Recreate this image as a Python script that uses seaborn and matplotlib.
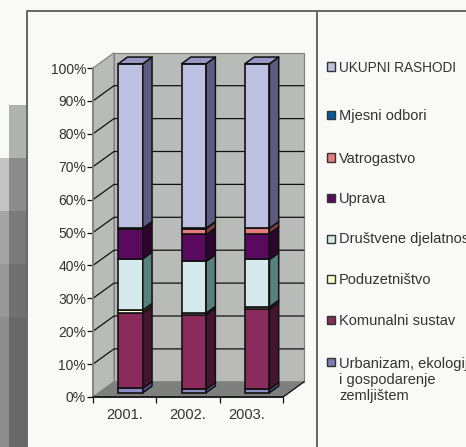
"""Stacked 100% bar chart with a drawn 3D box look, spending shares per year."""
import matplotlib
matplotlib.use("Agg")
import matplotlib.pyplot as plt
from matplotlib.patches import Polygon, Rectangle
from matplotlib.transforms import Affine2D, ScaledTranslation
import numpy as np
import seaborn as sns

# --- Data ---
YEARS = ["2001.", "2002.", "2003."]
URBANIZAM = [1.4, 1.1, 1.1]
KOMUNALNI = [22.9, 22.6, 24.3]
PODUZETNISTVO = [0.8, 0.5, 0.7]
DRUSTVENE = [15.6, 15.7, 14.4]
UPRAVA = [9.2, 8.2, 7.9]
VATROGASTVO = [0.1, 1.8, 1.6]
MJESNI = [0.0, 0.1, 0.0]
UKUPNI = [50.0, 50.0, 50.0]

# name, values, front colour, side colour
SERIES = [
    ("Urbanizam", URBANIZAM, "#8C8CC8", "#50508C"),
    ("Komunalni sustav", KOMUNALNI, "#8A2B5C", "#45152F"),
    ("Poduzetništvo", PODUZETNISTVO, "#FFFFCC", "#55553F"),
    ("Društvene djelatnosti", DRUSTVENE, "#D6EAEE", "#5A7F7F"),
    ("Uprava", UPRAVA, "#5A0A5E", "#2D052F"),
    ("Vatrogastvo", VATROGASTVO, "#E67C7C", "#804040"),
    ("Mjesni odbori", MJESNI, "#005C9E", "#002E50"),
    ("UKUPNI RASHODI", UKUPNI, "#BEC0E2", "#5C5C80"),
]
TOP_COLOR = "#9898C8"

LEGEND_LABELS = [
    "UKUPNI RASHODI", "Mjesni odbori", "Vatrogastvo", "Uprava",
    "Društvene djelatnosti", "Poduzetništvo", "Komunalni sustav",
    "Urbanizam, ekologija\ni gospodarenje\nzemljištem",
]
LEGEND_COLORS = ["#BEC0E2", "#005C9E", "#E67C7C", "#5A0A5E",
                 "#D6EAEE", "#FFFFCC", "#8A2B5C", "#7C7CB4"]
LEGEND_Y = [66.5, 115, 157.5, 198.5, 238.5, 278.5, 320, 362]

Y_TICKS = list(range(0, 101, 10))

# --- Layout in pixels ---
W, H = 466, 447
X0, X1, Y0, Y100 = 93, 283, 397, 68
PX_X = (X1 - X0) / 3
PX_Y = (Y0 - Y100) / 100
DEPTH_X, DEPTH_Y = 21 / PX_X, 15.2 / PX_Y
BAR_W = 0.387
BAR_DEPTH = 0.44
BAR_START = (1 - BAR_DEPTH) / 2
TEXT = "#333333"
WALL = "#B9BBB9"
FLOOR = "#7E807E"
EDGE = "#808080"
BG = "#F9F9F7"
LINE_PX = 16.5

sns.set_theme(style="white", rc={"font.family": ["Liberation Sans"], "text.color": TEXT})

fig = plt.figure(figsize=(W / 100, H / 100), dpi=100, facecolor=BG)

# Grey decorative blocks on the left of the slide
blocks = [
    (9, 105, 17, 53, "#B0B2B0"),
    (0, 158, 9, 53, "#C4C4C4"), (9, 158, 17, 53, "#8C8C8C"),
    (0, 211, 9, 53, "#A4A4A4"), (9, 211, 17, 53, "#7A7A7A"),
    (0, 264, 9, 53, "#989898"), (9, 264, 17, 53, "#707070"),
    (0, 317, 9, 130, "#8E8E8E"), (9, 317, 17, 130, "#686868"),
]
for bx, by, bw, bh, bc in blocks:
    fig.add_artist(Rectangle((bx / W, 1 - (by + bh) / H), bw / W, bh / H,
                             transform=fig.transFigure, color=bc, lw=0))

# Chart frame
fig.add_artist(plt.Line2D([27 / W, 27 / W, 317 / W, 317 / W],
                          [0, 1 - 10.5 / H, 1 - 10.5 / H, 0],
                          transform=fig.transFigure, color="#666666", lw=1.4))
fig.add_artist(plt.Line2D([317 / W, 1], [1 - 10.5 / H, 1 - 10.5 / H],
                          transform=fig.transFigure, color="#666666", lw=1.4))

ax = fig.add_axes([X0 / W, 1 - Y0 / H, (X1 - X0) / W, (Y0 - Y100) / H])
ax.patch.set_alpha(0)


def poly(points, color, edge=EDGE, lw=0.8, z=1, transform=None):
    p = Polygon(points, closed=True, facecolor=color, edgecolor=edge, lw=lw,
                zorder=z, clip_on=False, joinstyle="round")
    ax.add_patch(p)
    if transform is not None:
        p.set_transform(transform)


# Stacked front faces through seaborn
bottom = np.zeros(len(YEARS))
for name, vals, col, side_col in SERIES:
    sns.barplot(x=YEARS, y=vals, bottom=bottom, color=col, saturation=1,
                width=BAR_W, edgecolor="#111111", linewidth=1.2, ax=ax, zorder=5)
    bottom = bottom + np.array(vals)

ax.set_xlim(-0.5, 2.5)
ax.set_ylim(0, 100)

# Bars sit inside the box depth: shift front faces before the box is added
shift = Affine2D().translate(BAR_START * DEPTH_X, BAR_START * DEPTH_Y) + ax.transData
for patch in ax.patches:
    if isinstance(patch, Rectangle):
        patch.set_transform(shift)
        patch.set_clip_on(False)

# Box: walls, floor and grid
xl, xr = -0.5, 2.5
poly([(xl, 0), (xl + DEPTH_X, DEPTH_Y), (xl + DEPTH_X, 100 + DEPTH_Y), (xl, 100)], WALL, z=1)
poly([(xl + DEPTH_X, DEPTH_Y), (xr + DEPTH_X, DEPTH_Y), (xr + DEPTH_X, 100 + DEPTH_Y),
      (xl + DEPTH_X, 100 + DEPTH_Y)], WALL, z=1)
poly([(xl, 0), (xr, 0), (xr + DEPTH_X, DEPTH_Y), (xl + DEPTH_X, DEPTH_Y)], FLOOR, edge=FLOOR, z=1)
for t in Y_TICKS[1:-1]:
    ax.plot([xl, xl + DEPTH_X, xr + DEPTH_X], [t, t + DEPTH_Y, t + DEPTH_Y],
            color="#111111", lw=0.9, zorder=2, clip_on=False)
ax.plot([xr, xr + DEPTH_X], [0, DEPTH_Y], color="#111111", lw=0.9, zorder=2, clip_on=False)

dx, dy = BAR_DEPTH * DEPTH_X, BAR_DEPTH * DEPTH_Y
for i in range(len(YEARS)):
    left = i - BAR_W / 2
    right = i + BAR_W / 2
    base = 0.0
    for name, vals, col, side_col in SERIES:
        top = base + vals[i]
        if vals[i] > 0:
            poly([(right, base), (right + dx, base + dy), (right + dx, top + dy), (right, top)],
                 side_col, edge="#111111", lw=1.1, z=6, transform=shift)
        base = top
    poly([(left, base), (right, base), (right + dx, base + dy), (left + dx, base + dy)],
         TOP_COLOR, edge="#111111", lw=1.1, z=6, transform=shift)

# Axes
ax.set_yticks(Y_TICKS)
ax.set_yticklabels([f"{t}%" for t in Y_TICKS])
ax.set_xticks([-0.5, 0.5, 1.5, 2.5])
ax.set_xticklabels([])
ax.tick_params(axis="y", length=4, width=0.9, color="#111111", pad=1, labelsize=10, labelcolor=TEXT, left=True)
ax.tick_params(axis="x", length=4, width=0.9, color="#111111", bottom=True)
for side in ["top", "right"]:
    ax.spines[side].set_visible(False)
ax.spines["left"].set_color("#808080")
ax.spines["bottom"].set_color("#111111")
ax.spines["bottom"].set_zorder(3)
ax.set_xlabel("")
ax.set_ylabel("")

# Category labels, the last one sits a little left of its slot in the original
nudges = [0, 0, -5]
for i, year in enumerate(YEARS):
    tr = ax.get_xaxis_transform() + ScaledTranslation(nudges[i] / 100, -22 / 100, fig.dpi_scale_trans)
    ax.text(i, 0, year, transform=tr, ha="center", va="baseline", fontsize=10.5, color=TEXT, clip_on=False)

# Legend drawn by hand to keep the uneven row spacing
for label, col, ly in zip(LEGEND_LABELS, LEGEND_COLORS, LEGEND_Y):
    fig.add_artist(Rectangle((326.5 / W, 1 - (ly + 4) / H), 8 / W, 8 / H, transform=fig.transFigure,
                             facecolor=col, edgecolor="#333333", lw=1.0))
    base_y = ly + 5 + LINE_PX * label.count("\n")
    size = 9.8 if label.isupper() else 10.5
    fig.text(339 / W, 1 - base_y / H, label, ha="left", va="baseline", fontsize=size,
             color=TEXT, linespacing=1.2)

fig.savefig("out.png", dpi=100, facecolor=fig.get_facecolor())
plt.close(fig)
